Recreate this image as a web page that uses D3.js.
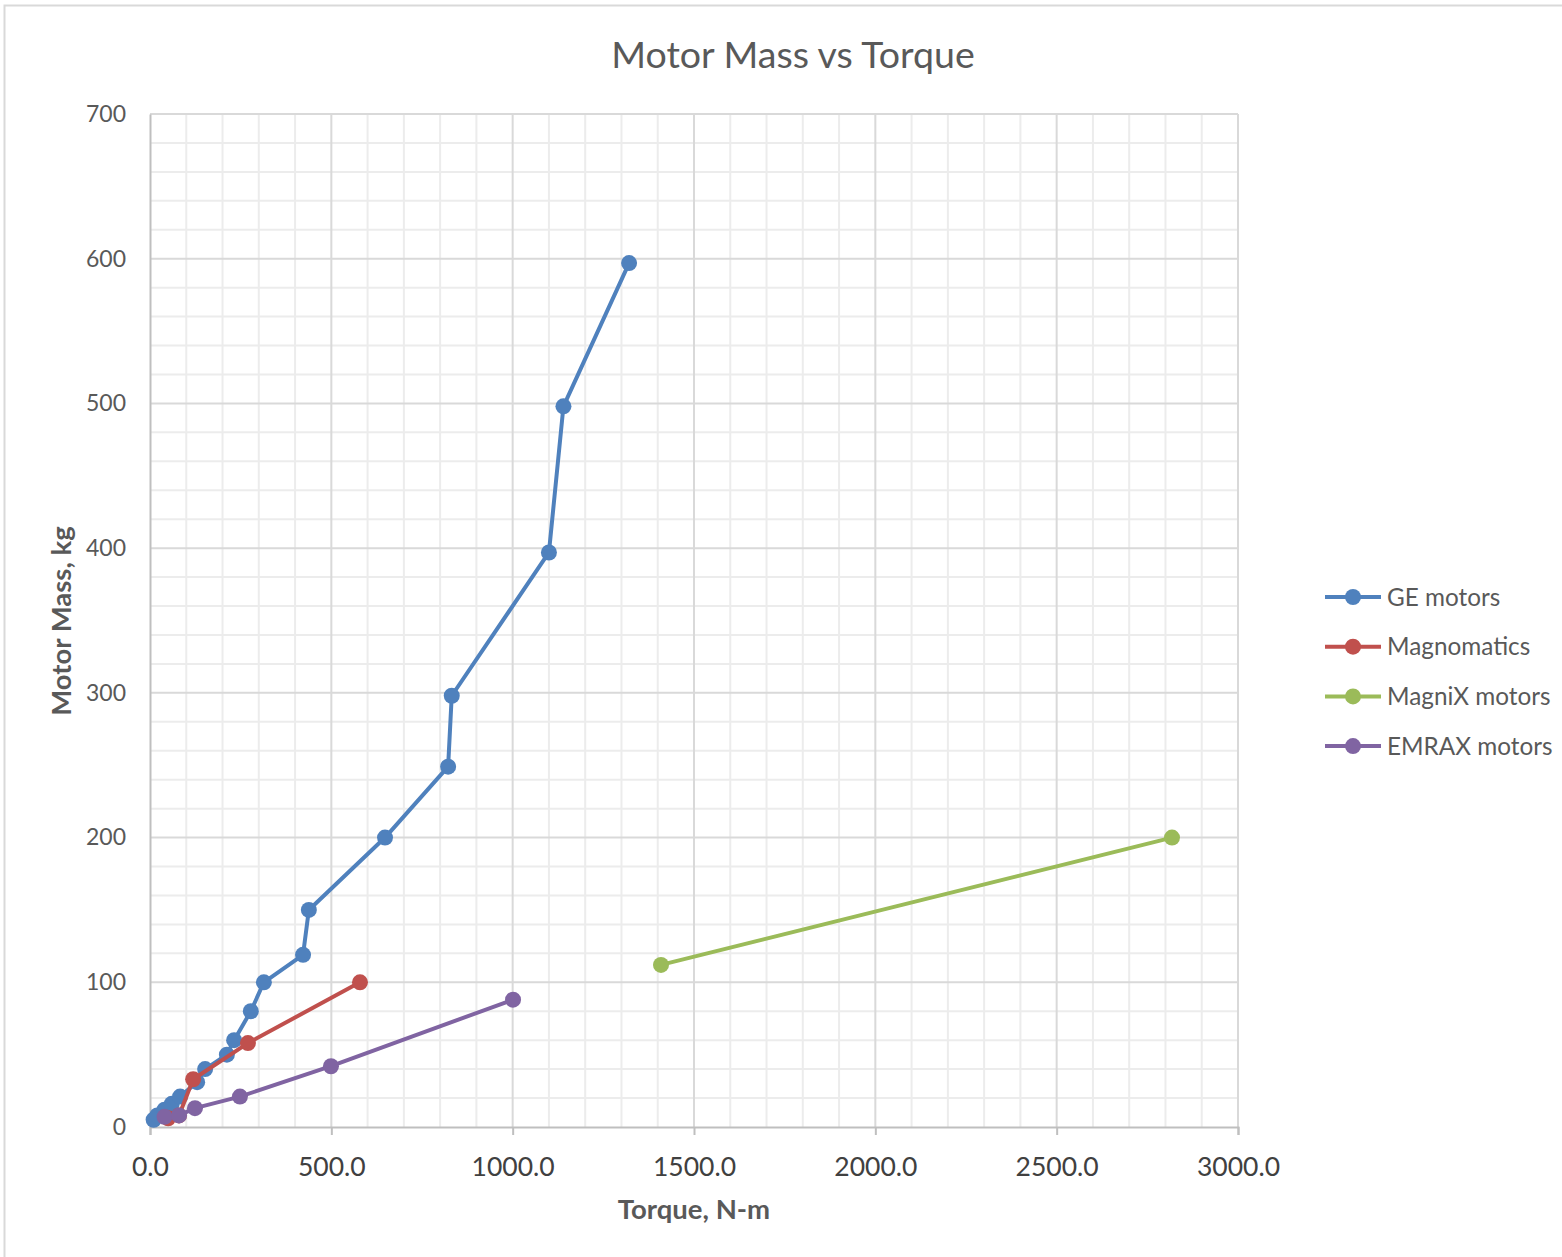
<!DOCTYPE html>
<html>
<head>
<meta charset="utf-8">
<script src="https://cdn.jsdelivr.net/npm/d3@7"></script>
<style>
  body { margin: 0; background: #fff; }
  text { font-family: Lato, "Open Sans", sans-serif; }
</style>
</head>
<body>
<svg width="1562" height="1257"></svg>
<script>
// values (torque N-m, mass kg)
const geTorque = [10, 20, 40, 60, 83, 130, 152, 212, 232, 278, 314, 422, 438, 648, 822, 832, 1100, 1140, 1321];
const geMass   = [5, 8, 12, 16, 21, 31, 40, 50, 60, 80, 100, 119, 150, 200, 249, 298, 397, 498, 597];
const magTorque = [50, 80, 119, 270, 579];
const magMass   = [6, 8, 33, 58, 100];
const magnixTorque = [1409, 2818];
const magnixMass   = [112, 200];
const emraxTorque = [40, 80, 124, 248, 499, 1001];
const emraxMass   = [7, 8, 13, 21, 42, 88];

const seriesNames = ["GE motors", "Magnomatics", "MagniX motors", "EMRAX motors"];
const seriesColors = ["#4F81BD", "#C0504D", "#9BBB59", "#8064A2"];
const xTicks = [0, 500, 1000, 1500, 2000, 2500, 3000];
const yTicks = [0, 100, 200, 300, 400, 500, 600, 700];

const series = [
  d3.zip(geTorque, geMass),
  d3.zip(magTorque, magMass),
  d3.zip(magnixTorque, magnixMass),
  d3.zip(emraxTorque, emraxMass)
];

const svg = d3.select("svg");
const plotLeft = 150, plotRight = 1238, plotTop = 114, plotBottom = 1127;

// outer chart border
svg.append("rect")
  .attr("x", 4.5).attr("y", 5.5)
  .attr("width", 1570).attr("height", 1270)
  .attr("fill", "none").attr("stroke", "#d9d9d9").attr("stroke-width", 2);

const x = d3.scaleLinear().domain([0, 3000]).range([plotLeft, plotRight]);
const y = d3.scaleLinear().domain([0, 700]).range([plotBottom, plotTop]);

// minor grid
const grid = svg.append("g");
grid.selectAll(".vminor").data(d3.range(100, 3000, 100).filter(v => v % 500))
  .enter().append("line")
  .attr("x1", d => x(d)).attr("x2", d => x(d))
  .attr("y1", plotTop).attr("y2", plotBottom)
  .attr("stroke", "#ececec").attr("stroke-width", 2);
grid.selectAll(".hminor").data(d3.range(20, 700, 20).filter(v => v % 100))
  .enter().append("line")
  .attr("x1", plotLeft).attr("x2", plotRight)
  .attr("y1", d => y(d)).attr("y2", d => y(d))
  .attr("stroke", "#ececec").attr("stroke-width", 2);

// major grid
grid.selectAll(".vmajor").data(xTicks.slice(1))
  .enter().append("line")
  .attr("x1", d => x(d)).attr("x2", d => x(d))
  .attr("y1", plotTop).attr("y2", plotBottom)
  .attr("stroke", "#d9d9d9").attr("stroke-width", 2);
grid.selectAll(".hmajor").data(yTicks.slice(1))
  .enter().append("line")
  .attr("x1", plotLeft).attr("x2", plotRight)
  .attr("y1", d => y(d)).attr("y2", d => y(d))
  .attr("stroke", "#d9d9d9").attr("stroke-width", 2);

// axes
const xAxis = svg.append("g")
  .attr("transform", `translate(0,${plotBottom})`)
  .call(d3.axisBottom(x).tickValues(xTicks).tickFormat(d3.format(".1f")).tickSize(8).tickPadding(22));
xAxis.select(".domain").attr("stroke", "#bfbfbf").attr("stroke-width", 2);
xAxis.selectAll(".tick line").attr("stroke", "#bfbfbf").attr("stroke-width", 2);
xAxis.selectAll("text").attr("fill", "#404040").style("font-size", "26.5px");

const yAxis = svg.append("g")
  .attr("transform", `translate(${plotLeft},0)`)
  .call(d3.axisLeft(y).tickValues(yTicks).tickSize(0).tickPadding(24));
yAxis.select(".domain").attr("stroke", "#bfbfbf").attr("stroke-width", 2);
yAxis.selectAll("text").attr("fill", "#595959").style("font-size", "23px");

// series
const line = d3.line().x(d => x(d[0])).y(d => y(d[1]));
series.forEach((pts, i) => {
  const g = svg.append("g");
  g.append("path").datum(pts)
    .attr("d", line)
    .attr("fill", "none")
    .attr("stroke", seriesColors[i])
    .attr("stroke-width", 4)
    .attr("stroke-linejoin", "round");
  g.selectAll("circle").data(pts).enter().append("circle")
    .attr("cx", d => x(d[0])).attr("cy", d => y(d[1]))
    .attr("r", 8)
    .attr("fill", seriesColors[i]);
});

// title and axis titles
svg.append("text")
  .attr("x", 793).attr("y", 68)
  .attr("text-anchor", "middle")
  .attr("fill", "#595959")
  .style("font-size", "37.5px")
  .text("Motor Mass vs Torque");

svg.append("text")
  .attr("x", 694).attr("y", 1219)
  .attr("text-anchor", "middle")
  .attr("fill", "#595959")
  .style("font-size", "27.5px").style("font-weight", "bold")
  .text("Torque, N-m");

svg.append("text")
  .attr("transform", "translate(71,621) rotate(-90)")
  .attr("text-anchor", "middle")
  .attr("fill", "#595959")
  .style("font-size", "27.5px").style("font-weight", "bold")
  .text("Motor Mass, kg");

// legend
const legend = svg.append("g").attr("transform", "translate(1325,597)");
seriesNames.forEach((name, i) => {
  const row = legend.append("g").attr("transform", `translate(0,${i * 49.7})`);
  row.append("line").attr("x1", 0).attr("x2", 56).attr("y1", 0).attr("y2", 0)
    .attr("stroke", seriesColors[i]).attr("stroke-width", 4);
  row.append("circle").attr("cx", 28).attr("cy", 0).attr("r", 8).attr("fill", seriesColors[i]);
  row.append("text").attr("x", 62).attr("y", 8.5)
    .attr("fill", "#595959").style("font-size", "24.3px")
    .text(name);
});
</script>
</body>
</html>
